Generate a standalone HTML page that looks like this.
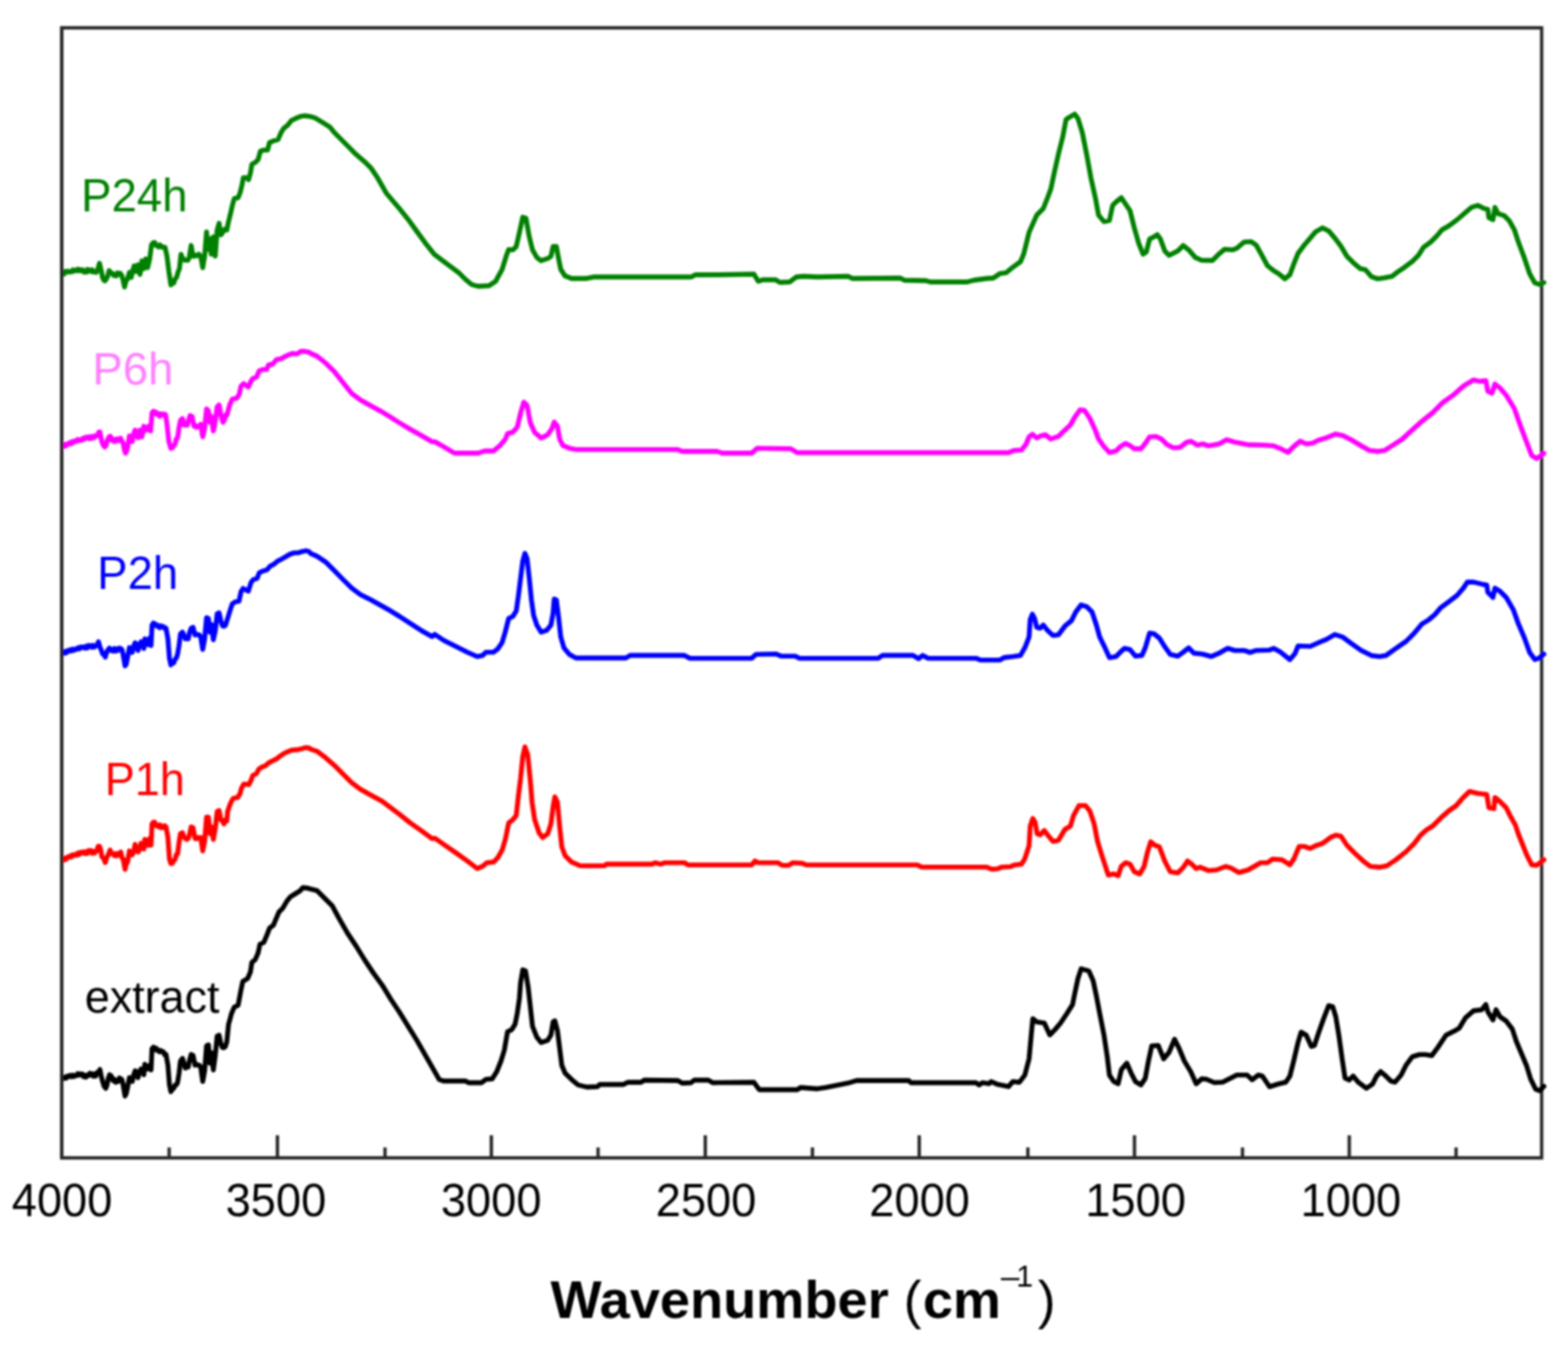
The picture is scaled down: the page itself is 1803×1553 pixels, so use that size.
<!DOCTYPE html>
<html><head><meta charset="utf-8"><title>FTIR spectra</title><style>html,body{margin:0;padding:0;background:#fff;overflow:hidden}svg{display:block}text{font-family:"Liberation Sans",Arial,sans-serif}</style></head><body>
<svg width="1803" height="1553" viewBox="0 0 1803 1553">
<defs><filter id="sf" x="-2%" y="-2%" width="104%" height="104%"><feGaussianBlur stdDeviation="0.8"/></filter></defs>
<rect x="0" y="0" width="1803" height="1553" fill="#fff"/>
<g filter="url(#sf)">
<rect x="71" y="32" width="1701.7" height="1299" fill="none" stroke="#262626" stroke-width="3.8"/>
<path d="M71,1331V1305M319,1331V1305M565,1331V1305M811,1331V1305M1057,1331V1305M1304.5,1331V1305M1551.5,1331V1305M194.5,1331V1319M442.7,1331V1319M687.7,1331V1319M934.2,1331V1319M1181.9,1331V1319M1428.7,1331V1319M1674.3,1331V1319" stroke="#262626" stroke-width="3.8" fill="none"/>
<g fill="none" stroke-width="5.6" stroke-linejoin="round" stroke-linecap="round">
<path stroke="#008000" d="M72.2,314.3 73.7,315.0 75.2,312.0 76.7,312.7 78.1,311.7 79.6,312.9 81.1,312.1 82.5,312.5 83.9,310.2 85.3,311.5 86.6,310.5 88.0,311.2 89.4,309.4 90.8,311.2 92.2,309.9 93.6,311.2 95.0,310.2 96.3,312.8 97.7,312.1 99.1,312.9 100.5,309.6 101.9,311.7 103.3,310.5 104.7,311.9 106.1,310.1 107.4,312.6 108.8,312.1 110.5,313.1 112.2,310.5 114.4,302.7 116.6,312.1 118.0,319.3 119.4,322.1 120.7,322.9 122.1,321.0 123.8,317.6 125.5,311.0 127.1,313.6 128.8,313.8 130.5,316.5 132.1,315.4 133.6,317.2 135.1,313.6 136.6,315.4 138.2,314.1 139.9,316.6 141.5,321.7 143.2,329.9 144.9,323.0 146.5,321.0 148.8,313.2 151.0,318.8 152.6,310.9 154.3,305.5 156.5,312.1 158.7,304.4 161.0,315.4 163.2,299.9 165.4,308.8 167.6,297.7 169.8,307.7 172.1,297.7 174.3,281.1 176.5,278.8 178.0,278.9 179.4,282.3 180.9,282.2 182.3,283.9 183.7,281.5 185.1,283.9 186.5,283.3 188.1,284.7 189.8,284.4 192.0,294.4 194.2,312.1 196.5,327.6 198.1,325.0 199.8,325.4 201.4,320.5 203.1,318.8 204.8,312.5 206.4,308.8 208.1,292.2 209.5,295.9 210.9,297.7 212.5,299.2 214.2,298.8 215.9,299.2 217.5,296.6 219.8,282.2 222.0,294.4 223.6,294.5 225.3,293.3 227.0,293.9 228.6,292.2 230.8,294.4 233.1,307.7 235.3,294.4 237.5,266.6 239.2,286.6 241.4,274.4 243.0,292.2 245.3,272.2 247.5,294.4 249.7,264.4 251.9,256.7 254.1,270.0 256.4,266.6 258.6,263.3 260.8,264.4 262.8,254.6 265.0,245.8 267.2,236.0 269.4,228.3 273.8,227.2 276.0,221.8 278.2,213.0 279.8,204.3 283.6,204.3 285.8,206.5 288.0,198.8 289.6,188.9 293.5,186.8 296.8,183.5 299.5,173.6 303.3,172.5 307.7,172.5 309.9,163.8 315.4,161.6 319.7,160.5 323.0,152.8 326.3,147.4 330.7,144.1 335.1,138.6 339.4,136.4 346.0,133.7 350.4,133.1 355.8,133.7 362.0,135.4 369.5,139.9 379.5,146.2 384.5,152.4 396.9,164.9 409.4,177.4 419.4,186.1 426.9,193.6 434.4,204.8 444.4,222.3 451.8,231.0 459.3,239.8 469.3,252.2 479.3,266.0 489.3,279.7 499.3,292.2 507.5,298.4 517.5,305.9 527.5,313.4 534.9,320.9 542.4,327.1 549.9,329.1 562.4,328.4 569.9,323.4 577.4,309.6 582.4,293.4 584.9,286.7 589.8,287.2 593.6,283.4 597.3,267.2 601.1,249.7 604.8,251.0 608.6,272.2 612.3,287.2 617.3,295.9 622.3,299.7 629.8,297.2 633.5,294.7 636.0,283.4 639.8,283.4 642.3,297.2 644.8,309.6 649.7,317.1 657.2,320.1 674.7,320.1 682.2,318.4 699.7,318.4 749.6,318.4 794.5,318.4 799.5,315.9 824.5,315.9 866.9,315.1 871.9,323.4 876.9,321.6 891.8,321.6 896.8,324.6 908.1,324.1 915.6,318.4 924.3,317.6 940.0,318.4 974.9,317.6 979.9,320.1 1034.8,319.6 1039.8,322.1 1064.8,322.6 1069.8,324.1 1112.2,324.1 1119.7,322.1 1134.7,320.1 1142.2,319.6 1149.6,314.6 1157.1,313.4 1164.6,307.2 1173.4,300.9 1177.1,292.2 1183.3,267.2 1187.1,258.5 1192.1,247.3 1199.6,239.8 1204.6,227.3 1208.3,217.3 1212.0,199.8 1217.0,177.4 1222.0,157.4 1225.8,137.4 1229.5,134.9 1235.8,131.2 1239.5,136.2 1244.5,152.4 1249.5,177.4 1254.5,204.8 1259.5,227.3 1263.2,247.3 1269.4,254.7 1275.7,253.5 1279.4,236.0 1283.2,232.3 1289.4,227.3 1294.4,234.8 1299.4,242.3 1304.4,262.2 1309.4,279.7 1314.4,292.2 1318.1,289.7 1321.9,274.7 1326.9,272.2 1330.6,269.7 1334.3,274.7 1339.3,288.4 1344.3,293.4 1349.3,290.9 1354.3,288.4 1360.5,282.2 1366.8,287.2 1374.3,295.9 1381.8,299.2 1394.1,299.4 1401.1,292.4 1408.2,286.5 1417.5,287.2 1422.2,285.3 1430.4,278.3 1438.7,277.8 1444.5,281.8 1450.4,292.4 1457.4,305.3 1464.5,311.1 1470.3,314.7 1477.4,320.5 1483.2,315.8 1487.9,302.9 1492.6,291.2 1499.7,281.8 1506.7,273.6 1512.6,266.6 1520.8,261.9 1527.8,265.4 1534.8,273.6 1541.9,283.0 1548.9,294.7 1556.0,301.8 1564.2,308.8 1570.0,310.0 1577.1,318.2 1584.1,320.5 1591.1,319.4 1600.5,317.7 1607.6,312.3 1614.6,307.6 1624.0,300.6 1631.0,293.6 1636.9,284.2 1645.1,278.3 1652.1,271.3 1658.0,264.2 1666.2,259.5 1675.6,252.5 1685.0,244.3 1692.0,238.4 1699.1,236.1 1706.1,239.6 1710.8,240.8 1712.0,250.2 1716.7,252.5 1719.0,238.4 1722.5,245.5 1729.6,247.8 1735.4,253.7 1741.3,264.2 1746.0,278.3 1753.0,297.1 1758.9,314.7 1764.8,325.2 1770.6,327.1 1775.3,324.8"/>
<path stroke="#ff00ff" d="M72.2,512.7 73.5,513.2 74.9,510.7 76.2,512.3 77.5,510.2 78.9,510.5 80.4,508.6 82.0,510.1 83.5,507.4 85.1,508.2 86.6,506.6 88.0,507.3 89.4,505.2 90.8,506.5 92.2,505.5 93.7,506.2 95.3,504.0 96.8,504.8 98.4,502.6 100.0,503.2 101.4,502.1 102.9,504.4 104.4,502.0 105.9,503.8 107.3,501.4 108.8,502.7 110.5,500.5 112.2,501.0 113.5,496.8 114.9,496.6 117.1,507.7 118.8,511.9 120.5,513.8 121.9,511.9 123.2,506.6 125.5,502.1 126.9,501.4 128.4,506.2 129.9,504.9 131.4,507.5 132.9,505.0 134.3,506.6 135.8,504.5 137.3,506.3 138.8,503.8 140.2,507.6 141.5,508.8 142.9,516.4 144.3,521.0 145.7,518.3 147.1,512.1 148.8,501.0 150.4,502.6 152.1,507.7 153.7,498.5 155.4,494.4 157.1,497.1 158.7,503.2 161.0,494.4 163.2,502.1 165.4,489.9 167.1,493.4 168.7,494.4 170.9,489.9 173.2,495.5 174.8,474.4 176.5,472.7 178.0,474.9 179.4,473.7 180.9,476.6 182.3,475.6 183.7,478.5 185.1,475.7 186.5,477.2 188.4,475.9 190.4,476.6 192.0,487.7 194.2,507.7 196.5,515.4 198.1,514.9 199.8,512.1 201.3,510.7 202.7,504.7 204.2,503.2 205.9,491.6 207.5,483.3 209.8,481.1 212.0,488.8 213.6,487.2 215.3,488.8 217.0,482.3 218.6,477.7 220.9,478.8 223.1,489.9 224.6,489.1 226.0,491.3 227.5,489.9 229.2,489.7 230.8,487.7 233.1,502.1 235.3,492.2 237.5,470.0 239.7,472.2 241.4,485.5 243.0,478.8 245.3,495.5 247.5,484.4 249.7,467.7 251.9,465.5 254.1,477.7 256.4,485.5 258.0,483.0 259.7,476.6 260.9,477.3 262.5,471.5 264.0,465.7 265.5,462.3 267.1,458.8 271.7,458.0 274.8,454.1 277.1,444.1 280.2,441.0 285.6,444.9 288.7,437.9 291.1,434.8 294.9,433.3 298.0,426.3 301.9,424.8 306.5,424.8 308.8,419.4 313.5,418.6 318.1,413.2 322.7,412.4 327.4,410.1 332.0,407.8 336.6,406.2 341.3,407.0 345.9,403.9 350.6,403.9 355.2,404.7 357.0,406.1 364.5,409.4 374.5,417.4 384.5,427.3 394.4,439.8 404.4,452.3 414.4,459.8 426.9,466.8 439.4,473.5 449.3,479.7 459.3,486.0 471.8,493.5 484.3,500.5 496.8,507.7 500.0,507.7 510.0,513.4 522.5,520.9 549.9,520.9 557.4,518.4 567.4,518.4 574.9,512.2 581.1,504.7 583.6,498.5 589.8,496.7 594.8,491.0 598.6,474.8 602.3,462.3 606.1,466.0 609.8,486.0 614.8,497.2 622.3,503.5 629.8,499.7 634.8,492.2 637.3,485.2 641.0,489.7 643.5,504.7 647.3,512.2 654.7,515.2 662.2,516.7 779.5,516.7 784.5,518.9 824.5,518.9 830.7,520.9 864.4,520.9 870.6,515.2 909.3,515.9 916.8,520.4 940.0,520.4 1159.6,520.4 1165.9,517.7 1174.6,517.2 1179.6,510.9 1183.3,502.2 1187.1,499.2 1192.1,503.5 1197.1,501.0 1202.1,499.7 1208.3,504.7 1217.0,501.7 1222.0,496.7 1230.8,488.5 1235.8,479.7 1242.0,471.0 1247.0,471.8 1253.2,481.0 1259.5,494.7 1263.2,504.7 1269.4,513.4 1275.7,520.2 1283.2,518.4 1288.2,513.4 1294.4,509.7 1299.4,512.2 1304.4,515.9 1311.9,515.9 1316.9,509.7 1321.9,502.2 1329.3,501.7 1335.6,504.7 1341.8,510.9 1349.3,514.7 1356.8,514.2 1364.3,508.5 1369.3,507.2 1376.8,511.7 1383.0,510.2 1389.4,512.5 1401.1,510.6 1410.5,505.5 1419.9,508.3 1434.0,511.1 1455.1,511.8 1464.5,512.5 1471.5,515.3 1480.9,520.0 1487.9,513.0 1495.0,507.1 1502.0,510.2 1509.0,509.5 1516.1,506.0 1525.5,503.1 1536.0,498.9 1544.2,500.8 1553.6,505.5 1565.3,512.5 1574.7,517.7 1584.1,518.9 1592.3,517.7 1600.5,512.5 1612.3,504.8 1624.0,494.2 1635.7,483.7 1647.5,474.3 1659.2,462.6 1670.9,454.3 1682.6,443.8 1694.4,436.7 1701.4,438.4 1708.5,437.5 1710.8,449.7 1715.5,452.0 1719.0,441.4 1724.9,446.1 1731.9,454.3 1741.3,469.6 1748.3,489.5 1755.4,508.3 1761.2,523.6 1767.1,527.1 1775.3,521.2"/>
<path stroke="#0000ff" d="M72.2,750.5 73.5,751.0 74.9,749.0 76.2,750.5 77.5,748.0 78.9,748.8 80.4,747.0 82.0,748.3 83.5,746.3 85.1,747.5 86.6,746.0 88.2,746.5 89.7,744.6 91.3,745.9 92.9,743.6 94.4,744.4 95.9,743.6 97.4,745.1 98.8,742.9 100.3,744.9 101.8,742.0 103.3,743.2 104.6,742.2 105.9,744.0 107.3,741.9 108.6,743.8 109.9,742.7 111.6,741.6 113.3,737.7 114.9,743.9 116.6,747.7 118.1,751.9 119.5,751.1 121.0,755.4 122.7,749.4 124.4,746.6 125.8,745.0 127.3,747.8 128.8,746.6 130.1,748.5 131.5,745.5 132.8,748.4 134.1,746.0 135.4,747.7 137.1,745.0 138.8,745.5 140.2,746.7 141.5,752.1 143.8,765.4 145.2,763.5 146.5,756.6 148.8,744.4 150.4,745.5 152.1,749.9 153.7,742.8 155.4,738.8 157.1,741.5 158.7,747.7 160.4,741.0 162.1,737.7 163.7,740.2 165.4,745.5 166.5,734.4 168.2,740.0 169.8,741.0 172.1,733.3 173.7,742.1 174.8,718.8 176.5,716.1 178.0,718.8 179.4,717.7 180.9,720.0 182.3,719.2 183.7,721.6 185.1,719.5 186.5,720.5 188.0,720.3 189.4,722.6 190.9,722.2 193.1,734.4 194.8,756.6 196.5,764.3 198.1,762.4 199.8,762.1 201.3,757.8 202.7,756.5 204.2,752.1 205.9,741.9 207.5,728.8 209.8,726.6 211.4,729.7 213.1,734.4 214.8,733.3 216.4,734.4 218.1,726.7 219.8,722.2 222.0,721.1 224.2,729.9 225.9,728.8 227.5,729.9 229.2,729.9 230.8,732.2 233.1,746.6 235.3,734.4 237.5,710.0 239.7,711.1 241.4,726.6 243.0,717.7 245.3,735.5 247.5,725.5 249.7,705.5 251.9,704.4 254.1,714.4 255.8,719.4 257.5,720.0 259.2,718.9 260.9,713.5 262.5,708.5 264.0,703.5 265.5,698.8 267.1,694.2 270.2,691.9 274.8,691.1 277.1,680.3 279.5,676.4 285.6,679.5 288.7,669.5 291.1,666.4 295.7,664.8 298.0,658.6 302.6,656.3 307.3,654.8 310.4,650.9 315.0,648.6 319.6,644.7 324.3,642.4 329.7,639.3 333.6,637.0 338.2,635.5 342.8,635.5 347.5,633.9 352.1,633.1 355.2,633.9 357.0,636.1 364.5,639.4 374.5,646.1 384.5,656.1 394.4,666.1 404.4,676.1 414.4,683.5 426.9,689.8 439.4,696.8 449.3,702.3 459.3,708.5 471.8,716.7 484.3,724.7 496.8,731.7 500.0,729.2 510.0,736.0 525.0,743.4 537.4,749.7 548.7,754.7 554.9,753.4 558.7,749.7 567.4,749.7 572.4,745.9 577.4,738.5 581.1,726.0 584.9,711.0 589.8,708.5 593.6,702.3 596.1,684.8 598.6,664.8 601.1,644.9 603.6,636.1 606.1,642.4 608.6,664.8 611.1,689.8 613.6,707.3 617.3,718.5 622.3,726.7 628.5,724.7 633.5,718.5 636.0,704.8 637.3,688.5 639.8,689.8 642.3,709.7 644.8,732.2 648.5,744.7 654.7,752.2 662.2,756.4 719.6,756.4 724.6,753.4 787.0,753.4 793.3,756.7 864.4,756.7 869.4,752.2 891.8,751.7 898.1,754.2 914.3,754.2 919.3,756.7 940.0,756.7 1009.9,756.7 1014.9,753.4 1049.8,753.4 1056.1,757.2 1061.0,753.4 1067.3,756.7 1122.2,756.7 1127.2,758.7 1149.6,758.7 1154.6,755.9 1164.6,754.7 1173.4,753.4 1178.4,744.7 1183.3,732.2 1184.6,712.2 1187.1,706.0 1189.6,711.0 1192.1,721.0 1195.8,722.2 1199.6,718.5 1204.6,724.7 1210.8,730.5 1217.0,729.7 1224.5,719.7 1232.0,713.5 1237.0,703.5 1243.2,695.3 1249.5,697.3 1255.7,703.5 1260.7,718.5 1264.5,732.2 1269.4,742.2 1275.7,755.9 1283.2,754.7 1288.2,749.7 1293.2,745.2 1299.4,746.7 1305.6,754.2 1313.1,753.4 1316.9,744.7 1321.9,727.7 1326.9,728.5 1333.1,733.5 1339.3,743.4 1345.6,752.2 1354.3,754.2 1360.5,749.7 1366.8,744.7 1373.0,750.9 1381.8,751.7 1385.9,752.8 1392.9,754.7 1401.1,751.2 1411.7,745.3 1419.9,747.7 1430.4,747.7 1437.5,750.0 1444.5,747.7 1459.8,747.2 1464.5,745.3 1471.5,748.9 1483.2,758.2 1489.1,751.2 1492.6,742.5 1506.7,743.0 1516.1,738.8 1525.5,734.8 1534.8,729.4 1544.2,732.4 1553.6,739.5 1565.3,747.7 1577.1,753.6 1586.5,754.7 1593.5,753.6 1605.2,745.3 1617.0,737.1 1626.3,727.7 1634.6,717.7 1642.8,712.5 1649.8,706.6 1656.8,698.4 1666.2,691.4 1675.6,684.3 1682.6,676.1 1687.3,669.1 1694.4,669.1 1703.8,671.4 1709.6,672.6 1710.8,680.8 1716.7,686.7 1719.0,676.1 1724.9,679.7 1731.9,686.7 1740.1,700.8 1746.0,717.2 1753.0,733.6 1758.9,750.0 1764.8,758.2 1769.5,756.6 1775.3,751.9"/>
<path stroke="#ff0000" d="M72.2,988.8 73.5,988.7 74.9,986.4 76.2,987.6 77.5,985.2 78.9,985.5 80.4,983.9 82.0,985.1 83.5,982.6 85.1,983.5 86.6,982.1 88.2,983.0 89.7,980.4 91.3,982.2 92.9,979.7 94.4,980.5 95.9,979.2 97.4,981.1 98.8,979.3 100.3,981.1 101.8,977.7 103.3,979.4 104.6,977.8 105.9,980.9 107.3,978.4 108.6,980.5 109.9,979.4 111.4,978.0 112.9,972.7 114.4,972.7 115.8,976.6 117.1,984.9 119.1,986.5 121.0,991.6 122.7,986.0 124.4,982.7 126.6,977.1 128.2,981.2 129.9,981.6 131.4,983.5 132.9,981.2 134.3,983.8 135.8,981.2 137.3,982.7 138.8,979.4 140.2,986.0 141.5,987.1 143.8,999.3 145.2,993.0 146.5,991.6 148.8,978.2 150.4,982.4 152.1,982.7 153.7,979.1 155.4,970.5 157.1,976.1 158.7,979.4 160.4,976.7 162.1,969.4 163.7,974.9 165.4,976.0 166.5,964.9 168.2,965.9 169.8,971.6 172.1,963.8 173.7,971.6 174.8,947.2 176.5,945.0 178.0,945.3 179.4,949.1 180.9,949.4 182.3,950.3 183.7,948.1 185.1,951.5 186.5,950.0 188.0,951.2 189.4,949.1 190.9,950.5 193.1,962.7 194.8,987.1 196.5,992.7 198.1,992.5 199.8,989.3 201.3,988.0 202.7,982.5 204.2,981.6 205.9,968.3 207.5,958.3 209.8,957.2 211.4,962.0 213.1,963.8 214.8,965.0 216.4,963.8 218.1,958.7 219.8,950.5 222.0,951.6 224.2,963.8 225.9,964.3 227.5,962.7 229.2,963.6 230.8,962.7 233.1,978.2 235.3,967.2 237.5,939.4 239.7,939.4 241.4,958.3 243.0,950.5 245.3,964.9 247.5,952.7 249.7,932.8 251.9,931.7 254.1,942.7 255.8,943.5 257.5,947.2 259.1,942.4 260.8,943.9 261.7,932.9 263.9,926.4 266.0,921.4 268.2,917.8 273.3,916.7 276.1,912.0 277.6,906.2 280.5,901.2 286.2,901.9 289.1,896.1 290.6,891.5 294.9,889.3 297.8,883.9 301.4,881.7 305.0,880.3 309.3,876.7 313.6,874.5 318.0,872.4 321.6,869.5 325.9,866.6 330.9,864.1 335.3,862.3 341.0,861.9 346.8,860.8 351.1,859.4 355.5,859.7 357.0,861.1 364.5,863.6 374.5,871.1 384.5,879.8 394.4,889.8 404.4,899.8 414.4,907.3 426.9,914.3 439.4,921.0 449.3,928.5 459.3,936.0 471.8,946.0 484.3,954.7 496.8,964.0 500.0,963.5 512.5,972.2 525.0,980.9 537.4,989.7 548.7,998.4 554.9,995.9 559.9,991.7 567.4,990.9 572.4,985.9 577.4,977.2 581.1,964.7 584.9,946.0 589.8,942.2 593.6,937.3 596.1,914.8 598.6,894.8 601.1,869.9 603.6,858.6 606.8,867.4 609.8,897.3 611.8,922.3 614.8,942.2 619.8,957.2 624.0,962.7 629.8,958.5 633.5,947.2 636.0,927.3 638.0,916.0 641.0,922.3 643.5,949.7 646.0,973.4 649.7,983.4 657.2,990.9 667.2,995.2 694.7,995.2 697.2,993.4 749.6,993.4 753.3,991.7 759.6,993.4 764.6,991.7 787.0,991.7 790.8,994.2 864.4,994.2 868.1,989.7 871.9,991.7 894.3,991.7 899.3,994.7 906.8,994.7 911.8,991.7 921.8,992.2 926.8,994.2 940.0,994.2 1054.8,994.2 1059.8,996.7 1134.7,996.7 1139.7,999.1 1147.2,998.7 1152.1,996.7 1162.1,996.2 1167.1,994.2 1174.6,993.4 1178.4,987.2 1183.3,972.2 1184.6,949.7 1187.6,941.0 1190.1,944.7 1192.6,958.5 1195.8,959.7 1200.8,954.7 1204.6,959.7 1210.8,967.2 1217.0,966.0 1224.5,953.5 1230.8,949.7 1234.5,937.3 1240.7,926.0 1248.2,926.0 1253.2,932.3 1258.2,947.2 1262.0,967.2 1267.0,983.4 1274.4,1005.9 1280.7,1004.6 1285.7,1006.6 1289.4,995.9 1294.4,991.7 1299.4,993.4 1304.4,1002.1 1310.6,1004.6 1315.6,995.9 1319.4,979.7 1323.1,967.7 1328.1,971.7 1333.1,973.4 1339.3,989.7 1345.6,1002.1 1354.3,1003.4 1360.5,997.2 1365.5,989.7 1370.5,993.4 1375.5,998.4 1380.0,996.9 1389.4,1000.7 1398.8,1000.0 1409.3,996.0 1415.2,997.6 1424.6,1003.0 1435.1,1000.0 1442.2,996.0 1449.2,991.8 1457.4,991.8 1463.3,987.5 1473.8,988.2 1483.2,994.1 1487.9,987.1 1493.8,973.0 1499.7,973.0 1506.7,975.3 1513.7,971.8 1520.8,969.5 1530.2,962.4 1536.0,960.1 1541.9,961.3 1548.9,971.8 1558.3,981.2 1567.7,989.9 1575.9,996.0 1586.5,996.9 1594.7,995.3 1605.2,988.2 1617.0,978.9 1626.3,969.5 1633.4,960.1 1640.4,953.8 1647.5,949.5 1656.8,940.2 1666.2,931.9 1674.4,926.1 1682.6,916.7 1689.7,909.7 1699.1,912.0 1709.6,913.2 1712.0,928.4 1717.8,929.6 1719.0,916.7 1724.9,921.4 1731.9,928.4 1737.8,940.2 1742.5,948.4 1746.0,958.9 1750.7,970.6 1755.4,982.4 1761.2,994.1 1767.1,994.6 1775.3,988.2"/>
<path stroke="#000000" d="M72.2,1239.3 73.5,1239.7 74.9,1238.1 76.2,1239.3 77.5,1237.0 78.9,1237.7 80.4,1236.3 82.0,1237.8 83.5,1235.9 85.1,1237.4 86.6,1236.0 88.0,1236.5 89.4,1234.2 90.8,1235.9 92.2,1234.4 93.5,1235.7 94.8,1234.7 96.2,1237.7 97.5,1236.3 98.8,1238.2 100.3,1235.9 101.8,1236.3 103.3,1233.8 104.6,1235.8 105.9,1234.1 107.3,1237.0 108.6,1234.7 109.9,1237.1 111.6,1232.9 113.3,1233.3 114.9,1229.4 116.3,1236.8 117.7,1242.1 119.6,1248.5 121.6,1251.0 123.0,1247.4 124.4,1239.9 126.0,1235.5 128.0,1237.0 129.9,1242.1 131.4,1240.7 132.9,1244.2 134.3,1242.1 135.8,1243.2 137.3,1239.1 138.8,1239.9 140.2,1241.1 141.5,1246.6 143.8,1259.9 145.2,1257.0 146.5,1251.0 148.8,1238.8 150.4,1239.5 152.1,1243.2 153.7,1235.6 155.4,1231.0 157.1,1232.4 158.7,1238.8 160.4,1231.7 162.1,1228.8 163.7,1229.5 165.4,1235.5 166.5,1223.3 168.2,1227.5 169.8,1228.8 172.1,1224.4 173.7,1229.9 174.8,1205.5 176.5,1203.8 178.0,1206.5 179.4,1204.9 180.9,1207.7 182.3,1207.1 183.7,1209.1 185.1,1207.7 186.5,1208.8 188.0,1209.2 189.4,1212.7 190.9,1212.2 193.1,1224.4 194.8,1246.6 196.5,1254.9 198.1,1252.2 199.8,1251.0 201.3,1247.4 202.7,1247.3 204.2,1244.3 205.9,1233.6 207.5,1219.9 209.8,1216.6 211.4,1221.1 213.1,1227.7 214.8,1226.0 216.4,1226.6 218.1,1218.2 219.8,1212.2 222.0,1213.3 224.2,1224.4 225.9,1223.3 227.5,1224.4 229.2,1224.6 230.8,1226.6 233.1,1243.2 235.3,1231.0 237.5,1202.2 239.7,1201.1 241.4,1222.2 243.0,1210.0 245.3,1229.9 247.5,1213.3 249.7,1191.1 251.9,1190.0 254.1,1200.0 255.8,1204.1 257.5,1204.4 259.1,1203.1 260.8,1197.7 262.8,1177.4 264.5,1171.4 266.1,1165.4 269.4,1157.7 273.8,1155.5 277.1,1138.0 279.2,1128.2 284.7,1124.9 288.0,1117.2 289.6,1106.3 293.5,1103.0 296.8,1095.4 298.9,1085.5 303.3,1083.3 306.6,1075.7 309.9,1066.9 314.3,1063.6 317.5,1056.0 320.8,1048.3 325.2,1043.9 329.6,1036.3 334.0,1030.8 339.4,1027.5 344.9,1024.2 348.2,1020.4 353.7,1020.9 354.5,1021.2 364.5,1023.7 372.0,1031.2 382.0,1041.2 389.4,1054.9 399.4,1072.4 409.4,1087.4 419.4,1103.6 429.4,1118.6 439.4,1132.3 449.3,1148.5 459.3,1163.5 469.3,1179.7 479.3,1195.9 489.3,1213.4 499.3,1230.9 505.0,1240.8 510.0,1242.6 534.9,1242.6 538.7,1244.6 553.7,1244.6 558.7,1240.8 566.1,1240.1 571.1,1232.1 576.1,1219.6 579.9,1207.2 583.6,1185.9 588.6,1183.4 592.3,1177.2 594.8,1164.7 597.3,1147.3 598.6,1129.8 601.1,1114.8 604.3,1116.1 607.3,1134.8 609.8,1157.2 612.3,1179.7 617.3,1192.2 622.3,1198.4 629.8,1195.9 633.5,1189.7 636.0,1174.7 638.0,1173.5 641.0,1184.7 643.5,1204.7 646.0,1224.6 649.7,1233.4 657.2,1240.8 664.7,1247.1 674.7,1249.6 687.2,1249.1 689.7,1246.6 717.1,1246.6 722.1,1244.1 737.1,1244.1 740.8,1241.6 779.5,1242.1 784.5,1245.1 794.5,1244.6 798.3,1241.6 814.5,1241.6 819.5,1244.6 866.9,1244.1 873.1,1252.6 916.8,1252.6 920.5,1250.1 940.0,1251.6 950.0,1250.1 965.0,1247.1 974.9,1245.1 984.9,1242.1 1044.8,1242.1 1047.3,1244.6 1122.2,1244.6 1125.9,1247.1 1129.7,1244.6 1137.2,1245.8 1139.7,1243.3 1147.2,1246.6 1159.6,1249.1 1164.6,1243.3 1172.1,1244.1 1178.4,1235.9 1183.3,1217.1 1185.8,1189.7 1187.6,1171.0 1192.1,1174.7 1200.8,1176.0 1207.1,1189.7 1213.3,1183.4 1219.5,1176.0 1227.0,1164.7 1233.3,1154.7 1235.8,1142.3 1239.5,1124.8 1243.2,1113.6 1252.0,1116.1 1257.0,1127.3 1260.7,1144.8 1264.5,1164.7 1269.4,1189.7 1273.2,1214.6 1275.7,1235.9 1280.7,1243.3 1285.7,1245.8 1289.4,1229.6 1295.7,1222.1 1300.6,1233.4 1305.6,1243.3 1311.9,1247.1 1316.9,1239.6 1320.6,1219.6 1324.4,1202.2 1331.8,1201.7 1338.1,1217.1 1344.3,1209.6 1350.6,1194.7 1355.6,1204.7 1361.8,1219.6 1369.3,1232.1 1375.5,1245.8 1381.8,1240.1 1387.0,1240.5 1396.4,1244.5 1405.8,1244.0 1412.8,1240.5 1422.2,1235.8 1434.0,1235.8 1439.8,1241.2 1446.9,1235.8 1451.6,1237.0 1459.8,1249.2 1469.2,1246.3 1478.5,1244.0 1483.2,1237.0 1487.9,1218.2 1492.6,1198.2 1496.1,1186.5 1502.0,1190.0 1507.9,1202.9 1511.4,1201.8 1516.1,1187.7 1521.9,1171.3 1527.8,1156.0 1532.5,1157.2 1536.0,1168.9 1539.5,1190.0 1543.1,1215.8 1546.6,1239.3 1551.3,1241.6 1556.0,1237.0 1561.8,1244.0 1571.2,1251.0 1578.2,1246.3 1582.9,1237.0 1587.6,1231.8 1592.3,1235.8 1599.4,1242.8 1604.1,1244.0 1611.1,1235.8 1617.0,1224.1 1624.0,1214.7 1632.2,1212.3 1639.2,1212.3 1646.3,1213.5 1653.3,1204.1 1662.7,1190.0 1672.1,1185.3 1678.0,1181.8 1685.0,1170.1 1694.4,1161.9 1703.8,1160.7 1708.5,1154.8 1710.8,1163.1 1716.7,1172.4 1720.2,1160.7 1724.9,1168.9 1731.9,1173.6 1739.0,1183.0 1743.6,1197.1 1749.5,1211.1 1755.4,1225.2 1760.1,1240.5 1765.9,1252.2 1770.6,1253.8 1775.3,1248.7"/>
</g>
<path d="M71,30.1V1332.9" stroke="#262626" stroke-width="3.8"/>
<g font-size="54" fill="#000" text-anchor="middle">
<text transform="translate(71.35,1397.7) scale(0.963,1)">4000</text>
<text transform="translate(317.25,1397.7) scale(0.963,1)">3500</text>
<text transform="translate(564.75,1397.7) scale(0.963,1)">3000</text>
<text transform="translate(811.85,1397.7) scale(0.963,1)">2500</text>
<text transform="translate(1057.45,1397.7) scale(0.963,1)">2000</text>
<text transform="translate(1305.75,1397.7) scale(0.963,1)">1500</text>
<text transform="translate(1553.4,1397.7) scale(0.963,1)">1000</text>
</g>
<g font-size="62" fill="#000">
<text x="633" y="1515" font-weight="bold" textLength="389" lengthAdjust="spacingAndGlyphs">Wavenumber</text>
<text x="1039" y="1515">(</text>
<text x="1061.3" y="1515" font-weight="bold">cm</text>
<text transform="translate(1148.5,1482) scale(1.25,1)" font-size="35">−</text>
<text x="1168.5" y="1479" font-size="35">1</text>
<text x="1193.3" y="1515">)</text>
</g>
<text transform="translate(93.2,242.7) scale(0.99,1)" font-size="53" fill="#008000">P24h</text>
<text transform="translate(106.3,441.7) scale(1.024,1)" font-size="51" fill="#ff80ff">P6h</text>
<text transform="translate(111.8,676.6) scale(0.986,1)" font-size="53" fill="#0000ff">P2h</text>
<text transform="translate(120.5,914.3) scale(0.975,1)" font-size="53" fill="#ff0000">P1h</text>
<text transform="translate(97.4,1164.4) scale(0.994,1)" font-size="52" fill="#000">extract</text>
</g>
</svg></body></html>
